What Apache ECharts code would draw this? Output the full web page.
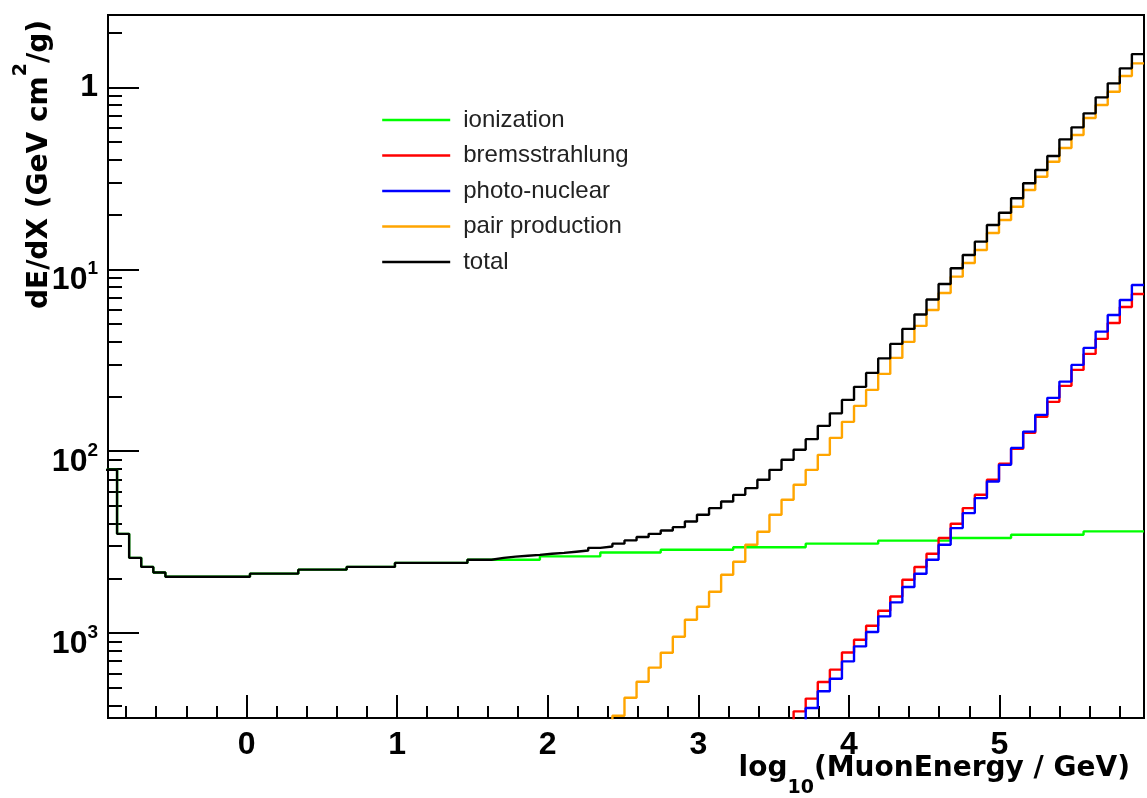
<!DOCTYPE html>
<html>
<head>
<meta charset="utf-8">
<script src="https://cdn.jsdelivr.net/npm/echarts@6/dist/echarts.min.js"></script>
<style>
html,body{margin:0;padding:0;background:#fff;}
#chart{width:1147px;height:798px;}
</style>
</head>
<body>
<div id="chart"></div>
<script>
// ---- histogram binning (log10 of muon energy) ----
const BIN_START = -0.94;
const BIN_WIDTH = 0.08023;

// ---- series values, one per bin (GeV cm^2/g) ----
const TOTAL = [
  0.00789, 0.00351, 0.00259, 0.00231, 0.00215,
  0.00204, 0.00204, 0.00204, 0.00204, 0.00204, 0.00204, 0.00204,
  0.00212, 0.00212, 0.00212, 0.00212,
  0.00223, 0.00223, 0.00223, 0.00223,
  0.00231, 0.00231, 0.00231, 0.00231,
  0.00243, 0.00243, 0.00243, 0.00243, 0.00243, 0.00243,
  0.00253, 0.00253,
  0.00259, 0.00263, 0.00266, 0.00269, 0.00273, 0.00276, 0.00280, 0.00284,
  0.00294, 0.00299, 0.00310, 0.00323, 0.00337, 0.00351, 0.00366, 0.00382,
  0.00410, 0.00447, 0.00486, 0.00529, 0.00575, 0.00626, 0.00696, 0.00789,
  0.00896, 0.01017, 0.01164, 0.01377, 0.01613, 0.01913, 0.02256, 0.02693,
  0.03236, 0.03886, 0.04699, 0.05643, 0.06823, 0.08302, 0.1013, 0.1198,
  0.1418, 0.1751, 0.2046, 0.2455, 0.2969, 0.3512, 0.4194, 0.5180,
  0.6030, 0.7197, 0.8813, 1.052, 1.272, 1.524
];
const IONIZATION = [
  0.00789, 0.00351, 0.00259, 0.00231, 0.00215,
  0.00204, 0.00204, 0.00204, 0.00204, 0.00204, 0.00204, 0.00204,
  0.00212, 0.00212, 0.00212, 0.00212,
  0.00223, 0.00223, 0.00223, 0.00223,
  0.00231, 0.00231, 0.00231, 0.00231,
  0.00243, 0.00243, 0.00243, 0.00243, 0.00243, 0.00243,
  0.00253, 0.00253,
  0.00253, 0.00253, 0.00253, 0.00253,
  0.00264, 0.00264, 0.00264, 0.00264, 0.00264,
  0.00277, 0.00277, 0.00277, 0.00277, 0.00277,
  0.00287, 0.00287, 0.00287, 0.00287, 0.00287, 0.00287,
  0.00296, 0.00296, 0.00296, 0.00296, 0.00296, 0.00296,
  0.00310, 0.00310, 0.00310, 0.00310, 0.00310, 0.00310,
  0.00322, 0.00322, 0.00322, 0.00322, 0.00322, 0.00322,
  0.00333, 0.00333, 0.00333, 0.00333, 0.00333,
  0.00347, 0.00347, 0.00347, 0.00347, 0.00347, 0.00347,
  0.00362, 0.00362, 0.00362, 0.00362, 0.00362
];
const PAIR_FIRST_BIN = 41;
const PAIR = [
  0.0003, 0.000351, 0.000441, 0.000540, 0.000645, 0.000779, 0.000954, 0.001183,
  0.001394, 0.001686, 0.002091, 0.002465, 0.003057, 0.003602, 0.004467, 0.00540,
  0.00653, 0.00789, 0.00954, 0.01183, 0.01449, 0.01774, 0.02172, 0.02659,
  0.03256, 0.03986, 0.04881, 0.05975, 0.07409, 0.09107, 0.1083, 0.1276,
  0.1583, 0.1866, 0.2208, 0.2728, 0.3227, 0.3902, 0.4639, 0.5469,
  0.6781, 0.7993, 0.9458, 1.154, 1.355
];
const BREMS_FIRST_BIN = 56;
const BREMS = [
  0.0003, 0.000371, 0.000436, 0.000538, 0.000629, 0.000782, 0.000919, 0.001097,
  0.001326, 0.001589, 0.001963, 0.002305, 0.002727, 0.003327, 0.003985, 0.004861,
  0.005753, 0.006955, 0.008517, 0.01029, 0.01260, 0.01543, 0.01866, 0.02285,
  0.02797, 0.03424, 0.04140, 0.05068, 0.06206, 0.07315
];
const PHOTO_FIRST_BIN = 57;
const PHOTO = [
  0.0003, 0.000387, 0.000478, 0.000561, 0.000698, 0.000844, 0.001013, 0.001234,
  0.001473, 0.001789, 0.002118, 0.002527, 0.003057, 0.003775, 0.004563, 0.005517,
  0.006808, 0.008408, 0.01042, 0.01281, 0.01583, 0.01963, 0.02412, 0.02980,
  0.03694, 0.04541, 0.05608, 0.06781, 0.08198
];

// ---- legend names ----
const SERIES_NAMES = ['ionization', 'bremsstrahlung', 'photo-nuclear', 'pair production', 'total'];

// ---- axes ----
const X_MIN = -0.92, X_MAX = 5.96;
const Y_MIN = 3.41e-4, Y_MAX = 2.5;
const X_MAJOR = [0, 1, 2, 3, 4, 5];
const X_LABELS = ['0', '1', '2', '3', '4', '5'];
const X_MINOR = [-0.8, -0.6, -0.4, -0.2, 0.2, 0.4, 0.6, 0.8, 1.2, 1.4, 1.6, 1.8,
  2.2, 2.4, 2.6, 2.8, 3.2, 3.4, 3.6, 3.8, 4.2, 4.4, 4.6, 4.8, 5.2, 5.4, 5.6, 5.8];
const Y_MAJOR = [0.001, 0.01, 0.1, 1];
const Y_LABEL_BASE = ['10', '10', '10', '1'];
const Y_LABEL_EXP = ['3', '2', '1', ''];
const Y_MINOR = [0.0004, 0.0005, 0.0006, 0.0007, 0.0008, 0.0009,
  0.002, 0.003, 0.004, 0.005, 0.006, 0.007, 0.008, 0.009,
  0.02, 0.03, 0.04, 0.05, 0.06, 0.07, 0.08, 0.09,
  0.2, 0.3, 0.4, 0.5, 0.6, 0.7, 0.8, 0.9, 2];

const COLORS = ['#00ff00', '#ff0000', '#0000ff', '#ffa500', '#000000'];

function hist(values, firstBin) {
  const pts = [];
  for (let i = 0; i < values.length; i++) {
    pts.push([BIN_START + (firstBin + i) * BIN_WIDTH, values[i]]);
  }
  pts.push([BIN_START + (firstBin + values.length) * BIN_WIDTH, values[values.length - 1]]);
  return pts;
}

const LABEL_FONT = 'Liberation Sans';
const TITLE_FONT = 'DejaVu Sans';

function lineSeries(name, data, color) {
  return {
    name: name, type: 'line', step: 'end', data: data,
    symbol: 'none', showSymbol: false, clip: true, silent: true,
    color: color,
    lineStyle: { color: color, width: 2.4 },
    emphasis: { disabled: true }
  };
}

const chart = echarts.init(document.getElementById('chart'), null, { width: 1147, height: 798 });

const option = {
  animation: false,
  backgroundColor: '#ffffff',
  grid: {
    left: 108, top: 15, right: 3, bottom: 80, show: true, borderColor: '#000', borderWidth: 2,
    containLabel: false, outerBoundsMode: 'none'
  },
  legend: {
    orient: 'vertical', left: 381, top: 108, padding: 0,
    itemWidth: 68, itemHeight: 14, itemGap: 11.5,
    selectedMode: false,
    data: SERIES_NAMES,
    itemStyle: { color: 'rgba(0,0,0,0)', borderWidth: 0, opacity: 0 },
    lineStyle: { width: 2.4 },
    textStyle: { fontFamily: LABEL_FONT, fontSize: 24, lineHeight: 24, color: '#222', padding: [0, 0, 0, 8] }
  },
  xAxis: [
    {
      type: 'value', min: X_MIN, max: X_MAX, position: 'bottom',
      axisLine: { show: true, onZero: false, lineStyle: { color: '#000', width: 2 } },
      axisTick: { show: true, inside: true, length: 23, customValues: X_MAJOR, lineStyle: { color: '#000', width: 2 } },
      axisLabel: {
        show: true, customValues: X_MAJOR, margin: 11,
        fontFamily: LABEL_FONT, fontWeight: 'bold', fontSize: 32, color: '#000',
        formatter: function (v) {
          const i = X_MAJOR.findIndex(t => Math.abs(t - v) < 1e-9);
          return i < 0 ? '' : X_LABELS[i];
        }
      },
      splitLine: { show: false },
      name: '{b|log}{s|10}{b|(MuonEnergy / GeV)}',
      nameLocation: 'end', nameGap: -14, nameMoveOverlap: false,
      nameTextStyle: {
        align: 'right', verticalAlign: 'top', padding: [37, 0, 0, 0],
        fontFamily: TITLE_FONT, fontWeight: 'bold', fontSize: 28, color: '#000',
        rich: {
          b: { fontFamily: TITLE_FONT, fontWeight: 'bold', fontSize: 28, color: '#000', height: 28, lineHeight: 43, verticalAlign: 'top' },
          s: { fontFamily: TITLE_FONT, fontWeight: 'bold', fontSize: 19, color: '#000', height: 20, lineHeight: 43, verticalAlign: 'bottom' }
        }
      }
    },
    {
      type: 'value', min: X_MIN, max: X_MAX, position: 'bottom',
      axisLine: { show: false, onZero: false },
      axisTick: { show: true, inside: true, length: 12, customValues: X_MINOR, lineStyle: { color: '#000', width: 2 } },
      axisLabel: { show: false },
      splitLine: { show: false }
    }
  ],
  yAxis: [
    {
      type: 'log', logBase: 10, min: Y_MIN, max: Y_MAX, position: 'left',
      axisLine: { show: true, onZero: false, lineStyle: { color: '#000', width: 2 } },
      axisTick: { show: true, inside: true, length: 31, lineStyle: { color: '#000', width: 2 } },
      minorTick: { show: false },
      axisLabel: {
        show: true, margin: 10, showMinLabel: false, showMaxLabel: false,
        formatter: function (v) {
          const i = Y_MAJOR.findIndex(t => Math.abs(Math.log10(v) - Math.log10(t)) < 1e-6);
          if (i < 0) return '';
          return Y_LABEL_EXP[i] ? '{e|' + Y_LABEL_BASE[i] + '}{s|' + Y_LABEL_EXP[i] + '}' : '{o|' + Y_LABEL_BASE[i] + '}';
        },
        rich: {
          e: { fontFamily: LABEL_FONT, fontWeight: 'bold', fontSize: 32, color: '#000', height: 22, lineHeight: 44, verticalAlign: 'bottom' },
          s: { fontFamily: LABEL_FONT, fontWeight: 'bold', fontSize: 19, color: '#000', lineHeight: 44, verticalAlign: 'middle' },
          o: { fontFamily: LABEL_FONT, fontWeight: 'bold', fontSize: 32, color: '#000', lineHeight: 32 }
        }
      },
      splitLine: { show: false },
      name: '{b|dE/dX (GeV cm}{s|2}{b|/g)}',
      nameLocation: 'end', nameGap: -5, nameRotate: 90, nameMoveOverlap: false,
      nameTextStyle: {
        align: 'right', verticalAlign: 'bottom', padding: [0, 0, 54, 0],
        fontFamily: TITLE_FONT, fontWeight: 'bold', fontSize: 28, color: '#000',
        rich: {
          b: { fontFamily: TITLE_FONT, fontWeight: 'bold', fontSize: 28, color: '#000', height: 28, lineHeight: 42, verticalAlign: 'bottom' },
          s: { fontFamily: TITLE_FONT, fontWeight: 'bold', fontSize: 19, color: '#000', height: 19, lineHeight: 42, verticalAlign: 'top' }
        }
      }
    },
    {
      type: 'value', min: Math.log10(Y_MIN), max: Math.log10(Y_MAX), position: 'left',
      axisLine: { show: false, onZero: false },
      axisTick: { show: true, inside: true, length: 14, customValues: Y_MINOR.map(v => Math.log10(v)), lineStyle: { color: '#000', width: 2 } },
      axisLabel: { show: false },
      splitLine: { show: false }
    }
  ],
  series: [
    lineSeries(SERIES_NAMES[0], hist(IONIZATION, 0), COLORS[0]),
    lineSeries(SERIES_NAMES[1], hist(BREMS, BREMS_FIRST_BIN), COLORS[1]),
    lineSeries(SERIES_NAMES[2], hist(PHOTO, PHOTO_FIRST_BIN), COLORS[2]),
    lineSeries(SERIES_NAMES[3], hist(PAIR, PAIR_FIRST_BIN), COLORS[3]),
    lineSeries(SERIES_NAMES[4], hist(TOTAL, 0), COLORS[4])
  ]
};
chart.setOption(option);
</script>
</body>
</html>
